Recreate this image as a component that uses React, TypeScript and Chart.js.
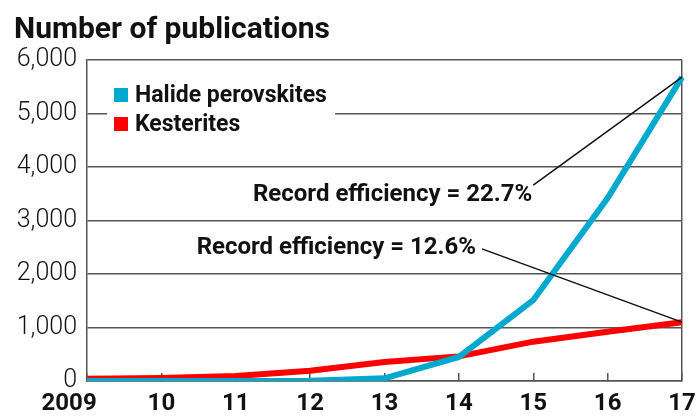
import React, { useEffect, useRef } from 'react';
import { Chart, registerables } from 'chart.js';

Chart.register(...registerables);

const titleText = 'Number of publications';
const years = ['2009', '10', '11', '12', '13', '14', '15', '16', '17'];
const seriesNames = ['Halide perovskites', 'Kesterites'];
const perovskites = [0, 0, 0, 5, 50, 450, 1510, 3420, 5680];
const kesterites = [40, 55, 95, 190, 355, 460, 735, 920, 1100];
const yTicks = [0, 1000, 2000, 3000, 4000, 5000, 6000];
const yTickLabels = ['0', '1,000', '2,000', '3,000', '4,000', '5,000', '6,000'];
const annotationTexts = ['Record efficiency = 22.7%', 'Record efficiency = 12.6%'];

const CYAN = '#00A9CD';
const RED = '#FF0000';
const GRID = '#555555';
const INK = '#111111';
const BOLD = 'Roboto, "Liberation Sans", sans-serif';

const overlayPlugin = {
  id: 'overlay',
  afterDatasetsDraw(chart: any) {
    const { ctx, chartArea, scales } = chart;
    const xs = scales.x;
    const ys = scales.y;
    ctx.save();

    // legend
    ctx.fillStyle = '#ffffff';
    ctx.fillRect(chartArea.left + 20, chartArea.top + 22, 228, 60);
    chart.data.datasets.forEach((ds: any, i: number) => {
      const top = chartArea.top + 28 + i * 29;
      ctx.fillStyle = ds.borderColor;
      ctx.fillRect(chartArea.left + 27, top, 14, 14);
      ctx.fillStyle = INK;
      ctx.font = `bold 23px ${BOLD}`;
      ctx.textBaseline = 'middle';
      ctx.textAlign = 'left';
      ctx.fillText(ds.label, chartArea.left + 48, top + 8);
    });

    // annotations
    const end0 = chart.getDatasetMeta(0).data[years.length - 1];
    const end1 = chart.getDatasetMeta(1).data[years.length - 1];
    const s0 = { x: xs.getPixelForValue(6), y: ys.getPixelForValue(3660) };
    const s1 = { x: xs.getPixelForValue(5.31), y: ys.getPixelForValue(2470) };

    ctx.strokeStyle = INK;
    ctx.lineWidth = 1.5;
    ctx.beginPath();
    ctx.moveTo(s0.x, s0.y);
    ctx.lineTo(end0.x, end0.y);
    ctx.moveTo(s1.x, s1.y);
    ctx.lineTo(end1.x, end1.y);
    ctx.stroke();

    ctx.fillStyle = INK;
    ctx.font = `bold 24px ${BOLD}`;
    ctx.textAlign = 'right';
    ctx.textBaseline = 'middle';
    ctx.fillText(annotationTexts[0], s0.x - 1, s0.y + 10);
    ctx.fillText(annotationTexts[1], s1.x - 6, s1.y - 1);

    ctx.restore();
  },
};

export default function App() {
  const canvasRef = useRef<HTMLCanvasElement | null>(null);

  useEffect(() => {
    if (!canvasRef.current) return;
    const chart = new Chart(canvasRef.current, {
      type: 'line',
      data: {
        labels: years,
        datasets: [
          {
            label: seriesNames[0],
            data: perovskites,
            borderColor: CYAN,
            backgroundColor: CYAN,
            borderWidth: 6,
            pointRadius: 0,
            tension: 0,
          },
          {
            label: seriesNames[1],
            data: kesterites,
            borderColor: RED,
            backgroundColor: RED,
            borderWidth: 6,
            pointRadius: 0,
            tension: 0,
          },
        ],
      },
      options: {
        animation: false,
        responsive: true,
        maintainAspectRatio: false,
        layout: { padding: { left: 14, right: 14, top: 0, bottom: 0 } },
        plugins: {
          legend: { display: false },
          tooltip: { enabled: false },
          title: {
            display: true,
            text: titleText,
            align: 'start',
            color: INK,
            font: { family: BOLD, size: 30, weight: 'bold' },
            padding: { top: 12, bottom: 12 },
          },
        },
        scales: {
          x: {
            type: 'category',
            offset: false,
            grid: {
              display: true,
              drawOnChartArea: true,
              drawTicks: true,
              tickLength: -8,
              color: (c: any) => (c.index === years.length - 1 ? GRID : 'rgba(0,0,0,0)'),
              tickColor: GRID,
              lineWidth: 1.5,
            },
            border: { display: true, color: GRID, width: 1.5 },
            ticks: {
              padding: 17,
              color: INK,
              maxRotation: 0,
              autoSkip: false,
              font: { family: BOLD, size: 24, weight: 'bold' },
              callback: (_v: any, i: number) => (i === 0 ? years[0] + '      ' : years[i]),
            },
            afterFit: (s: any) => {
              s.height = 37;
              s.paddingLeft = 0;
              s.paddingRight = 0;
            },
          },
          y: {
            min: 0,
            max: 6000,
            grid: {
              color: GRID,
              lineWidth: 1.5,
              drawTicks: false,
            },
            border: { display: true, color: GRID, width: 1.5 },
            ticks: {
              stepSize: 1000,
              padding: 10,
              color: INK,
              font: { family: 'Roboto, "Liberation Sans", sans-serif', size: 25, weight: '300' },
              callback: (v: any) => {
                const i = yTicks.indexOf(Number(v));
                return i >= 0 ? yTickLabels[i] : '';
              },
            },
            afterFit: (s: any) => {
              s.width = 73;
              s.paddingTop = 0;
              s.paddingBottom = 0;
            },
          },
        },
      },
      plugins: [overlayPlugin],
    });
    return () => chart.destroy();
  }, []);

  return (
    <div style={{ position: 'absolute', left: 0, top: 0, width: 696, height: 418 }}>
      <canvas ref={canvasRef} />
    </div>
  );
}
